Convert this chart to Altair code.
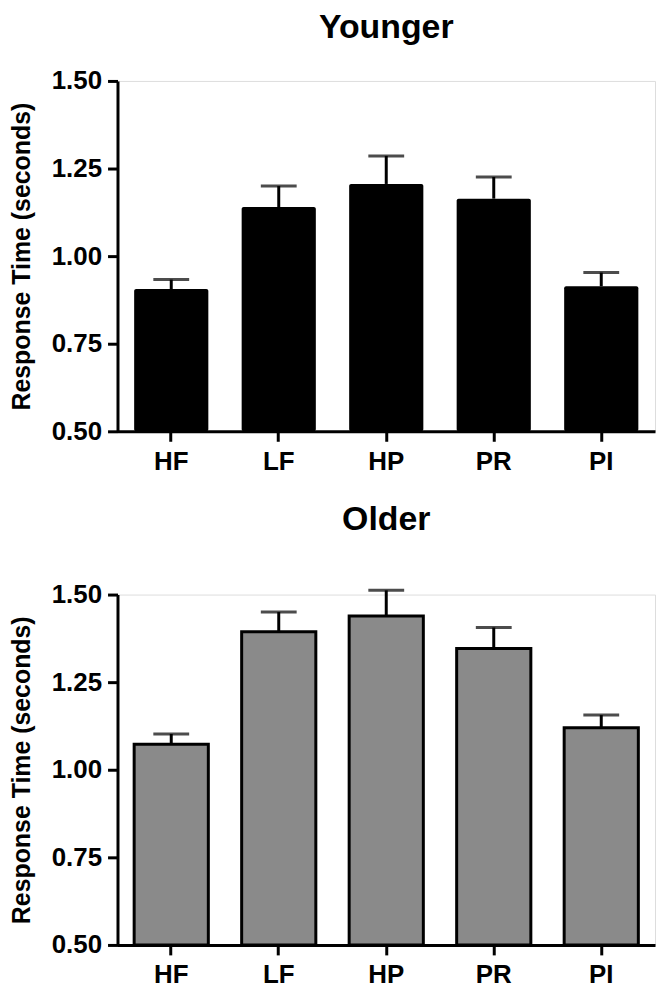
import altair as alt
import pandas as pd

conditions = ["HF", "LF", "HP", "PR", "PI"]
younger_mean = [0.906, 1.140, 1.206, 1.164, 0.914]
younger_sem = [0.027, 0.060, 0.080, 0.062, 0.039]
older_mean = [1.073, 1.394, 1.439, 1.346, 1.120]
older_sem = [0.029, 0.056, 0.073, 0.060, 0.036]
y_ticks = [0.50, 0.75, 1.00, 1.25, 1.50]

FONT = "Liberation Sans"


def make_df(means, sems):
    return pd.DataFrame({
        "cond": conditions,
        "mean": means,
        "upper": [m + s for m, s in zip(means, sems)],
    })


def panel(means, sems, title, fill, stroke_w, title_offset, title_pad):
    df = make_df(means, sems)
    x = alt.X("cond:N", sort=conditions, title=None,
              scale=alt.Scale(paddingInner=0.31, paddingOuter=0.155),
              axis=alt.Axis(labelAngle=0, labelFont=FONT, labelFontSize=26,
                            labelFontWeight="bold", labelColor="black",
                            labelPadding=7, domainColor="black", domainWidth=3,
                            tickColor="black", tickWidth=3, tickSize=10))
    y_scale = alt.Scale(domain=[0.5, 1.5], nice=False, zero=False)
    y_axis = alt.Axis(values=y_ticks, format=".2f", title="Response Time (seconds)",
                      titleFont=FONT, titleFontSize=25, titleFontWeight="bold",
                      titleColor="black", titlePadding=title_pad,
                      labelFont=FONT, labelFontSize=26, labelFontWeight="bold",
                      labelColor="black", labelPadding=6, grid=False,
                      domainColor="black", domainWidth=3, tickColor="black",
                      tickWidth=3, tickSize=10)
    base = alt.Chart(df)
    rule = base.mark_rule(color="black", strokeWidth=3).encode(
        x=x, y=alt.Y("mean:Q", scale=y_scale, axis=y_axis), y2="upper:Q")
    cap = base.mark_tick(color="black", thickness=3, size=36).encode(
        x=x, y=alt.Y("upper:Q", scale=y_scale, axis=y_axis))
    if stroke_w > 0:
        bar = base.mark_bar(color=fill, stroke="black", strokeWidth=stroke_w,
                            strokeJoin="miter").encode(
            x=x, y=alt.Y("mean:Q", scale=y_scale, axis=y_axis), y2=alt.datum(0.5))
    else:
        bar = base.mark_bar(color=fill, cornerRadius=2).encode(
            x=x, y=alt.Y("mean:Q", scale=y_scale, axis=y_axis), y2=alt.datum(0.5))
    return alt.layer(rule, cap, bar).properties(
        width=540, height=352,
        title=alt.TitleParams(title, font=FONT, fontSize=34, fontWeight="bold",
                              color="black", offset=title_offset, anchor="middle"))


top = panel(younger_mean, younger_sem, "Younger", "black", 0, 23, 17)
bottom = panel(older_mean, older_sem, "Older", "#8a8a8a", 3, 45, 17)

chart = alt.vconcat(top, bottom, spacing=27).properties(
    padding={"top": 0, "left": 0, "right": 0, "bottom": 0}
).configure_view(stroke=None).configure(background="white")

chart.save("out.html", embed_options={"renderer": "svg", "actions": False})
